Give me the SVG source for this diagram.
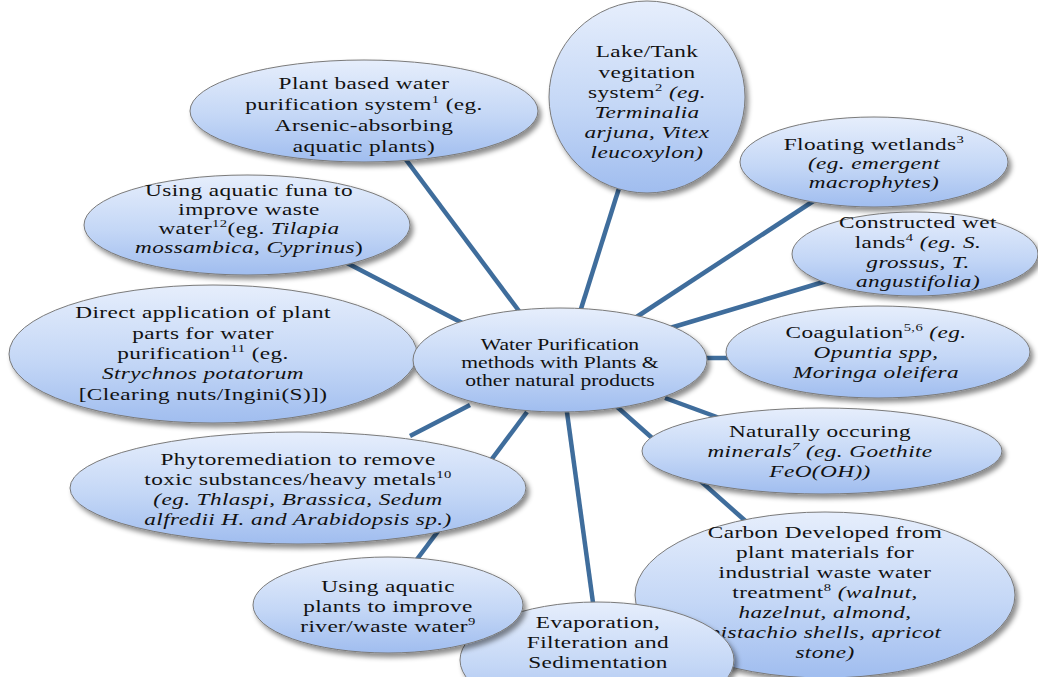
<svg xmlns="http://www.w3.org/2000/svg" width="1038" height="677" viewBox="0 0 1038 677">
  <defs>
    <linearGradient id="fill" x1="0" y1="0" x2="0" y2="1">
      <stop offset="0" stop-color="#e6eefc"/>
      <stop offset="0.55" stop-color="#c4d7f6"/>
      <stop offset="1" stop-color="#a0bdef"/>
    </linearGradient>
    <filter id="shadow" x="-10%" y="-10%" width="125%" height="135%">
      <feDropShadow dx="3" dy="4" stdDeviation="2.5" flood-color="#000" flood-opacity="0.45"/>
    </filter>
  </defs>
  <style>
    .node { fill: url(#fill); stroke: #7a7a7a; stroke-width: 1; filter: url(#shadow); }
    .edge { stroke: #3f6d9c; stroke-width: 4.5; stroke-linecap: butt; fill: none; }
    text { font-family: "Liberation Serif", "Times New Roman", serif; font-size: 17.5px; fill: #111; text-anchor: middle; letter-spacing: 0.3px; }
    .c text { font-size: 16px; letter-spacing: 0; }
    .i { font-style: italic; }
    .sup { font-size: 11px; }
  </style>
  <rect width="1038" height="677" fill="#fff"/>

  <!-- connectors from the central node -->
  <g id="connectors">
    <line class="edge" x1="395" y1="145" x2="522" y2="315"/>
    <line class="edge" x1="580" y1="312" x2="620" y2="185"/>
    <line class="edge" x1="635" y1="318" x2="815" y2="200"/>
    <line class="edge" x1="670" y1="328" x2="830" y2="280"/>
    <line class="edge" x1="700" y1="358" x2="735" y2="358"/>
    <line class="edge" x1="665" y1="398" x2="725" y2="420"/>
    <line class="edge" x1="615" y1="405" x2="750" y2="525"/>
    <line class="edge" x1="566" y1="405" x2="594" y2="610"/>
    <line class="edge" x1="527" y1="412" x2="412" y2="566"/>
    <line class="edge" x1="470" y1="405" x2="410" y2="436"/>
    <line class="edge" x1="395" y1="358" x2="425" y2="358"/>
    <line class="edge" x1="345" y1="262" x2="470" y2="327"/>
  </g>

  <g id="n-plant-system">
    <ellipse class="node" cx="364" cy="111" rx="174" ry="51"/>
    <g transform="translate(364 0) scale(1.33 1)">
      <text x="0" y="89">Plant based water</text>
      <text x="0" y="110">purification  system<tspan class="sup" dy="-7">1</tspan><tspan dy="7"> (eg.</tspan></text>
      <text x="0" y="131">Arsenic-absorbing</text>
      <text x="0" y="152">aquatic plants)</text>
    </g>
  </g>

  <g id="n-lake-tank">
    <ellipse class="node" cx="647" cy="97" rx="98" ry="96"/>
    <g transform="translate(647 0) scale(1.33 1)">
      <text x="0" y="57">Lake/Tank</text>
      <text x="0" y="78">vegitation</text>
      <text x="0" y="98">system<tspan class="sup" dy="-7">2</tspan><tspan dy="7"> </tspan><tspan class="i">(eg.</tspan></text>
      <text x="0" y="118" class="i">Terminalia</text>
      <text x="0" y="138" class="i">arjuna, Vitex</text>
      <text x="0" y="158" class="i">leucoxylon)</text>
    </g>
  </g>

  <g id="n-floating-wetlands">
    <ellipse class="node" cx="874" cy="162" rx="134" ry="45"/>
    <g transform="translate(874 0) scale(1.33 1)">
      <text x="0" y="150">Floating  wetlands<tspan class="sup" dy="-7">3</tspan></text>
      <text x="0" y="169" class="i">(eg. emergent</text>
      <text x="0" y="188" class="i">macrophytes)</text>
    </g>
  </g>

  <g id="n-constructed-wetlands">
    <ellipse class="node" cx="915" cy="254" rx="123" ry="42"/>
    <g transform="translate(918 0) scale(1.33 1)">
      <text x="0" y="228">Constructed wet</text>
      <text x="0" y="248">lands<tspan class="sup" dy="-7">4</tspan><tspan dy="7"> </tspan><tspan class="i">(eg. S.</tspan></text>
      <text x="0" y="268" class="i">grossus, T.</text>
      <text x="0" y="287" class="i">angustifolia)</text>
    </g>
  </g>

  <g id="n-aquatic-fauna">
    <ellipse class="node" cx="247" cy="225" rx="163" ry="50"/>
    <g transform="translate(249 0) scale(1.33 1)">
      <text x="0" y="196">Using aquatic funa to</text>
      <text x="0" y="215">improve waste</text>
      <text x="0" y="234">water<tspan class="sup" dy="-7">12</tspan><tspan dy="7">(eg. </tspan><tspan class="i">Tilapia</tspan></text>
      <text x="0" y="253"><tspan class="i">mossambica, Cyprinus</tspan>)</text>
    </g>
  </g>

  <g id="n-direct-application">
    <ellipse class="node" cx="213" cy="354" rx="204" ry="69"/>
    <g transform="translate(203 0) scale(1.33 1)">
      <text x="0" y="318">Direct application  of plant</text>
      <text x="0" y="339">parts for water</text>
      <text x="0" y="359">purification<tspan class="sup" dy="-7">11</tspan><tspan dy="7">  (eg.</tspan></text>
      <text x="0" y="379" class="i">Strychnos potatorum</text>
      <text x="0" y="400">[Clearing  nuts/Ingini(S)])</text>
    </g>
  </g>

  <g id="n-center" class="c">
    <ellipse class="node" cx="560" cy="360" rx="147" ry="52"/>
    <g transform="translate(560 0) scale(1.35 1)">
      <text x="0" y="350">Water Purification</text>
      <text x="0" y="368">methods with Plants &amp;</text>
      <text x="0" y="386">other natural products</text>
    </g>
  </g>

  <g id="n-coagulation">
    <ellipse class="node" cx="878" cy="352" rx="152" ry="46"/>
    <g transform="translate(876 0) scale(1.33 1)">
      <text x="0" y="338">Coagulation<tspan class="sup" dy="-7">5,6</tspan><tspan dy="7">  </tspan><tspan class="i">(eg.</tspan></text>
      <text x="0" y="358" class="i">Opuntia spp,</text>
      <text x="0" y="378" class="i">Moringa oleifera</text>
    </g>
  </g>

  <g id="n-minerals">
    <ellipse class="node" cx="822" cy="451" rx="180" ry="43"/>
    <g transform="translate(820 0) scale(1.33 1)">
      <text x="0" y="437">Naturally  occuring</text>
      <text x="0" y="457" class="i">minerals<tspan class="sup" dy="-7">7</tspan><tspan dy="7"> (eg. Goethite</tspan></text>
      <text x="0" y="477" class="i">FeO(OH))</text>
    </g>
  </g>

  <g id="n-phytoremediation">
    <ellipse class="node" cx="298" cy="488" rx="228" ry="56"/>
    <g transform="translate(298 0) scale(1.33 1)">
      <text x="0" y="465">Phytoremediation  to remove</text>
      <text x="0" y="485">toxic  substances/heavy  metals<tspan class="sup" dy="-7">10</tspan></text>
      <text x="0" y="505" class="i">(eg. Thlaspi, Brassica,  Sedum</text>
      <text x="0" y="525" class="i">alfredii H. and Arabidopsis sp.)</text>
    </g>
  </g>

  <g id="n-carbon">
    <ellipse class="node" cx="825" cy="595" rx="190" ry="83"/>
    <g transform="translate(825 0) scale(1.33 1)">
      <text x="0" y="538">Carbon Developed from</text>
      <text x="0" y="558">plant  materials  for</text>
      <text x="0" y="578">industrial  waste water</text>
      <text x="0" y="598">treatment<tspan class="sup" dy="-7">8</tspan><tspan dy="7">   </tspan><tspan class="i">(walnut,</tspan></text>
      <text x="0" y="618" class="i">hazelnut, almond,</text>
      <text x="0" y="638" class="i">pistachio shells,  apricot</text>
      <text x="0" y="658" class="i">stone)</text>
    </g>
  </g>

  <g id="n-evaporation">
    <ellipse class="node" cx="597" cy="660" rx="137" ry="58"/>
    <g transform="translate(598 0) scale(1.33 1)">
      <text x="0" y="628">Evaporation,</text>
      <text x="0" y="648">Filteration  and</text>
      <text x="0" y="668">Sedimentation</text>
    </g>
  </g>

  <g id="n-aquatic-plants">
    <ellipse class="node" cx="388" cy="605" rx="135" ry="48"/>
    <g transform="translate(388 0) scale(1.33 1)">
      <text x="0" y="592">Using  aquatic</text>
      <text x="0" y="612">plants  to improve</text>
      <text x="0" y="632">river/waste  water<tspan class="sup" dy="-7">9</tspan></text>
    </g>
  </g>
</svg>
